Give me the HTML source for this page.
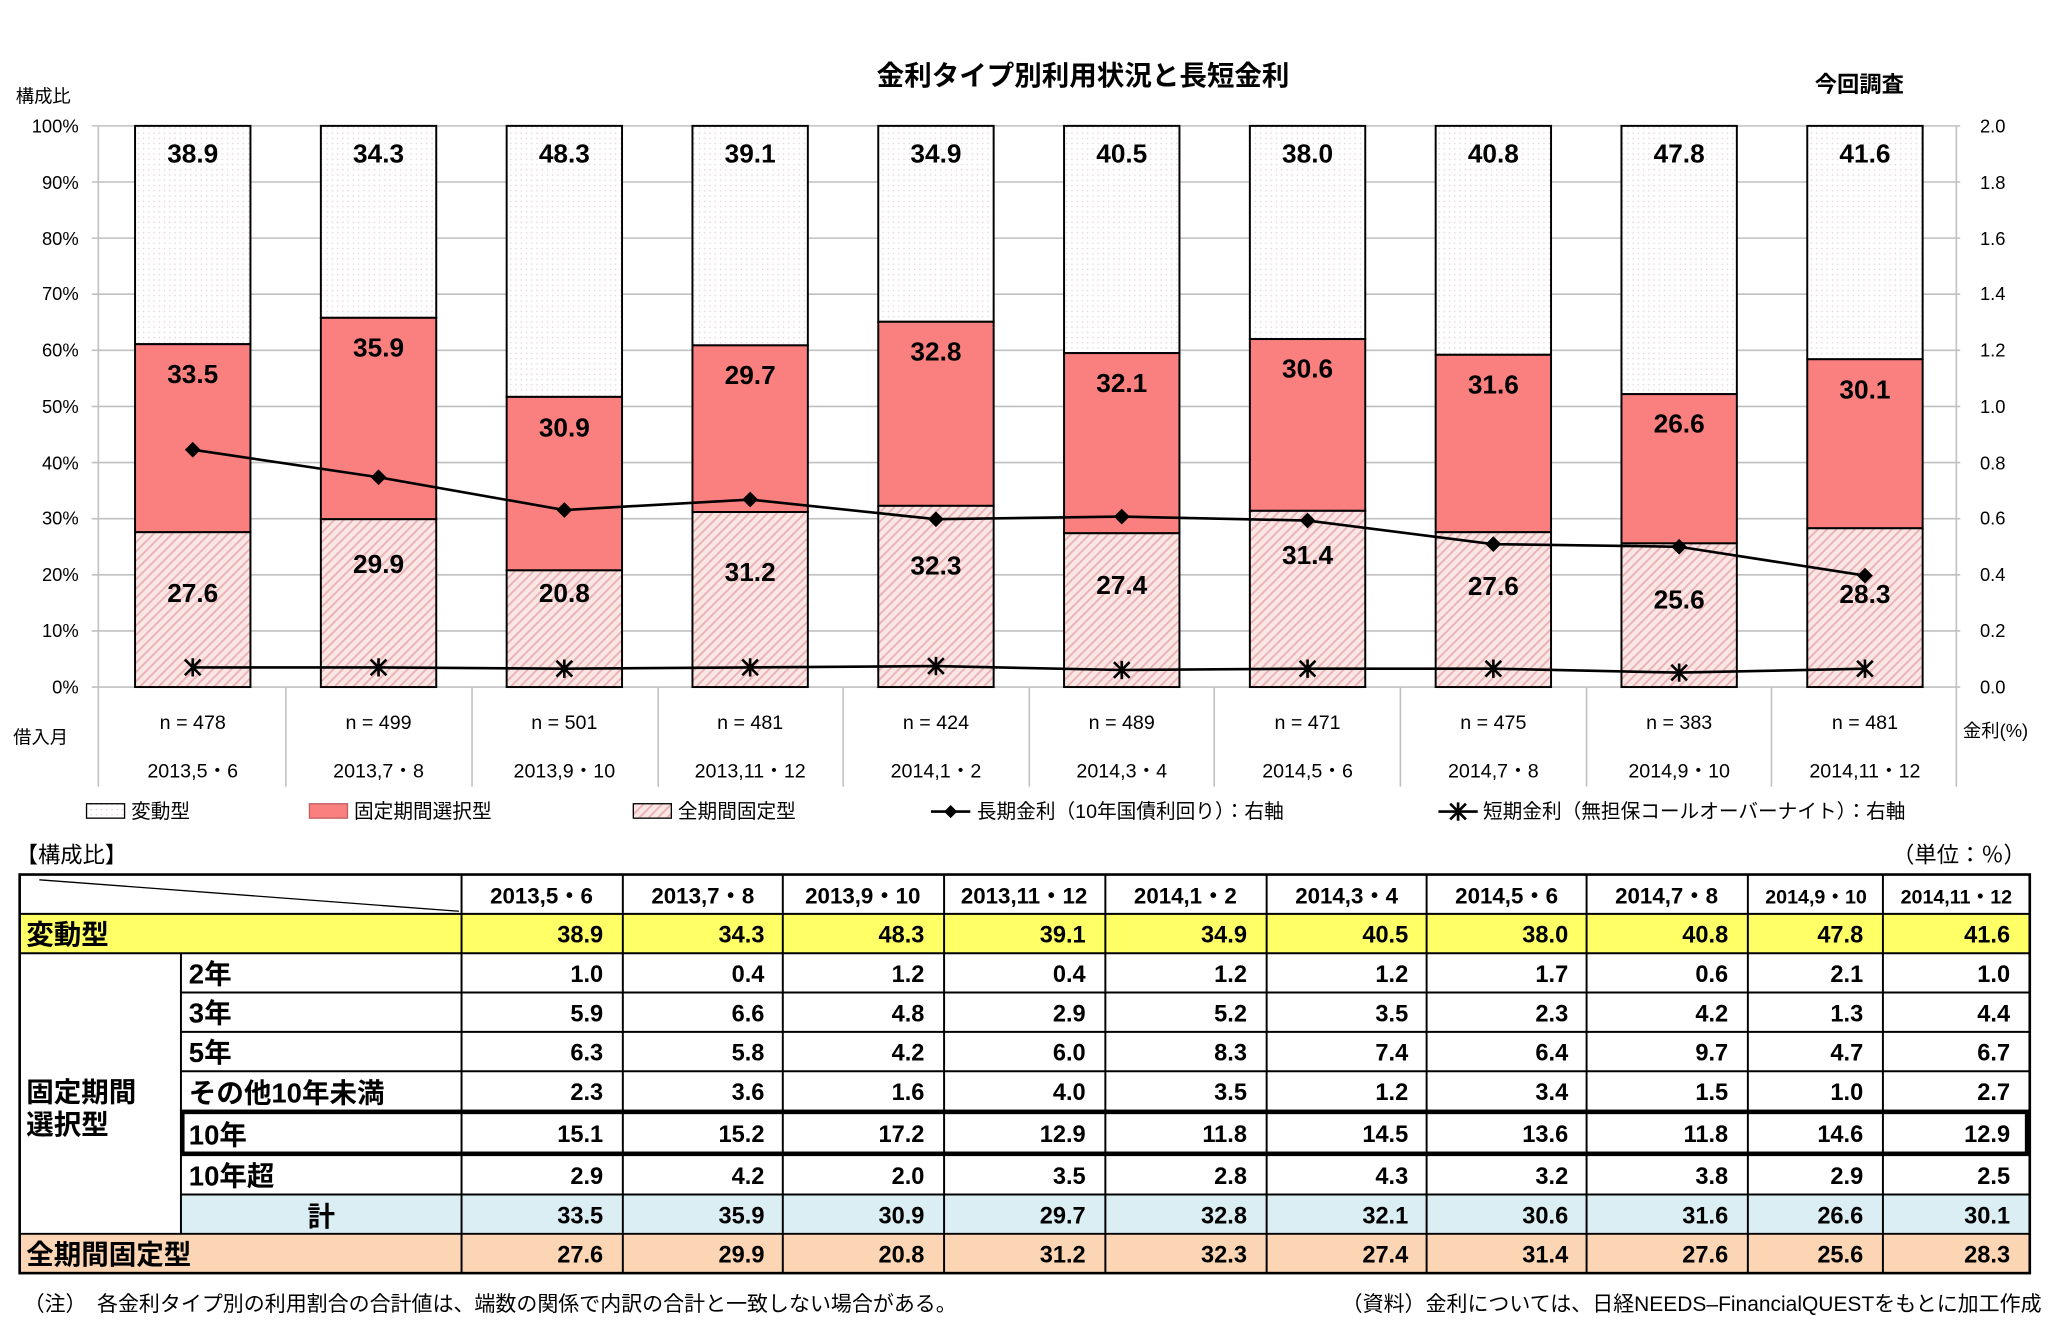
<!DOCTYPE html>
<html><head><meta charset="utf-8"><style>
html,body{margin:0;padding:0;background:#fff;}
svg{display:block;}
text{font-family:"Liberation Sans","Noto Sans CJK JP",sans-serif;}
.b{font-weight:bold;}
</style></head><body>
<svg width="2056" height="1340" viewBox="0 0 1568 1022" preserveAspectRatio="none" xmlns="http://www.w3.org/2000/svg">
<defs>
<pattern id="dots" width="4" height="4" patternUnits="userSpaceOnUse"><rect width="4" height="4" fill="#fff"/><rect x="1" y="1" width="1" height="1" fill="#e2d2d2"/></pattern>
<pattern id="hatch" width="5" height="5" patternUnits="userSpaceOnUse" patternTransform="rotate(45)"><rect width="5" height="5" fill="#fbe6e6"/><rect width="1.5" height="5" fill="#eab4b4"/></pattern>
</defs>
<rect width="1568" height="1022" fill="#fff"/>
<text x="826" y="65" text-anchor="middle" class="b" font-size="21">金利タイプ別利用状況と長短金利</text>
<text x="1418" y="70" text-anchor="middle" class="b" font-size="17">今回調査</text>
<text x="12" y="78" font-size="14">構成比</text>
<g stroke="#c0c0c0" stroke-width="1.2">
<line x1="70" y1="96" x2="1495" y2="96"/><line x1="70" y1="138.8" x2="1495" y2="138.8"/><line x1="70" y1="181.6" x2="1495" y2="181.6"/><line x1="70" y1="224.4" x2="1495" y2="224.4"/><line x1="70" y1="267.2" x2="1495" y2="267.2"/><line x1="70" y1="310" x2="1495" y2="310"/><line x1="70" y1="352.8" x2="1495" y2="352.8"/><line x1="70" y1="395.6" x2="1495" y2="395.6"/><line x1="70" y1="438.4" x2="1495" y2="438.4"/><line x1="70" y1="481.2" x2="1495" y2="481.2"/><line x1="70" y1="524" x2="1495" y2="524"/>
<line x1="75" y1="96" x2="75" y2="600"/><line x1="1492" y1="96" x2="1492" y2="600"/>
<line x1="218" y1="524" x2="218" y2="600"/><line x1="360" y1="524" x2="360" y2="600"/><line x1="502" y1="524" x2="502" y2="600"/><line x1="643" y1="524" x2="643" y2="600"/><line x1="785" y1="524" x2="785" y2="600"/><line x1="926" y1="524" x2="926" y2="600"/><line x1="1068" y1="524" x2="1068" y2="600"/><line x1="1210" y1="524" x2="1210" y2="600"/><line x1="1351" y1="524" x2="1351" y2="600"/>
</g>
<g font-size="14" text-anchor="end">
<text x="60" y="101">100%</text><text x="60" y="144">90%</text><text x="60" y="187">80%</text><text x="60" y="229">70%</text><text x="60" y="272">60%</text><text x="60" y="315">50%</text><text x="60" y="358">40%</text><text x="60" y="400">30%</text><text x="60" y="443">20%</text><text x="60" y="486">10%</text><text x="60" y="529">0%</text>
</g>
<g font-size="14">
<text x="1510" y="101">2.0</text><text x="1510" y="144">1.8</text><text x="1510" y="187">1.6</text><text x="1510" y="229">1.4</text><text x="1510" y="272">1.2</text><text x="1510" y="315">1.0</text><text x="1510" y="358">0.8</text><text x="1510" y="400">0.6</text><text x="1510" y="443">0.4</text><text x="1510" y="486">0.2</text><text x="1510" y="529">0.0</text>
</g>
<g stroke="#000" stroke-width="1.5">
<rect x="103" y="96" width="88" height="166.5" fill="url(#dots)"/><rect x="103" y="262.5" width="88" height="143.4" fill="#fa8080"/><rect x="103" y="405.9" width="88" height="118.1" fill="url(#hatch)"/>
<rect x="244.7" y="96" width="88" height="146.4" fill="url(#dots)"/><rect x="244.7" y="242.4" width="88" height="153.6" fill="#fa8080"/><rect x="244.7" y="396" width="88" height="128" fill="url(#hatch)"/>
<rect x="386.4" y="96" width="88" height="206.7" fill="url(#dots)"/><rect x="386.4" y="302.7" width="88" height="132.3" fill="#fa8080"/><rect x="386.4" y="435" width="88" height="89" fill="url(#hatch)"/>
<rect x="528.1" y="96" width="88" height="167.4" fill="url(#dots)"/><rect x="528.1" y="263.4" width="88" height="127.1" fill="#fa8080"/><rect x="528.1" y="390.5" width="88" height="133.5" fill="url(#hatch)"/>
<rect x="669.8" y="96" width="88" height="149.4" fill="url(#dots)"/><rect x="669.8" y="245.4" width="88" height="140.4" fill="#fa8080"/><rect x="669.8" y="385.8" width="88" height="138.2" fill="url(#hatch)"/>
<rect x="811.5" y="96" width="88" height="173.3" fill="url(#dots)"/><rect x="811.5" y="269.3" width="88" height="137.4" fill="#fa8080"/><rect x="811.5" y="406.7" width="88" height="117.3" fill="url(#hatch)"/>
<rect x="953.2" y="96" width="88" height="162.6" fill="url(#dots)"/><rect x="953.2" y="258.6" width="88" height="131" fill="#fa8080"/><rect x="953.2" y="389.6" width="88" height="134.4" fill="url(#hatch)"/>
<rect x="1094.9" y="96" width="88" height="174.6" fill="url(#dots)"/><rect x="1094.9" y="270.6" width="88" height="135.3" fill="#fa8080"/><rect x="1094.9" y="405.9" width="88" height="118.1" fill="url(#hatch)"/>
<rect x="1236.6" y="96" width="88" height="204.6" fill="url(#dots)"/><rect x="1236.6" y="300.6" width="88" height="113.8" fill="#fa8080"/><rect x="1236.6" y="414.4" width="88" height="109.6" fill="url(#hatch)"/>
<rect x="1378.3" y="96" width="88" height="178" fill="url(#dots)"/><rect x="1378.3" y="274" width="88" height="128.9" fill="#fa8080"/><rect x="1378.3" y="402.9" width="88" height="121.1" fill="url(#hatch)"/>
</g>
<g class="b" font-size="20" text-anchor="middle">
<text x="147" y="124">38.9</text><text x="288.7" y="124">34.3</text><text x="430.4" y="124">48.3</text><text x="572.1" y="124">39.1</text><text x="713.8" y="124">34.9</text><text x="855.5" y="124">40.5</text><text x="997.2" y="124">38.0</text><text x="1138.9" y="124">40.8</text><text x="1280.6" y="124">47.8</text><text x="1422.3" y="124">41.6</text>
<text x="147" y="292">33.5</text><text x="288.7" y="272">35.9</text><text x="430.4" y="333">30.9</text><text x="572.1" y="293">29.7</text><text x="713.8" y="275">32.8</text><text x="855.5" y="299">32.1</text><text x="997.2" y="288">30.6</text><text x="1138.9" y="300">31.6</text><text x="1280.6" y="330">26.6</text><text x="1422.3" y="304">30.1</text>
<text x="147" y="459">27.6</text><text x="288.7" y="437">29.9</text><text x="430.4" y="459">20.8</text><text x="572.1" y="443">31.2</text><text x="713.8" y="438">32.3</text><text x="855.5" y="453">27.4</text><text x="997.2" y="430">31.4</text><text x="1138.9" y="454">27.6</text><text x="1280.6" y="464">25.6</text><text x="1422.3" y="460">28.3</text>
</g>
<polyline fill="none" stroke="#000" stroke-width="2" points="147,343 288.7,364 430.4,389 572.1,381 713.8,396 855.5,394 997.2,397 1138.9,415 1280.6,417 1422.3,439"/>
<g fill="#000">
<path d="M147,337 l6,6 l-6,6 l-6,-6z"/><path d="M288.7,358 l6,6 l-6,6 l-6,-6z"/><path d="M430.4,383 l6,6 l-6,6 l-6,-6z"/><path d="M572.1,375 l6,6 l-6,6 l-6,-6z"/><path d="M713.8,390 l6,6 l-6,6 l-6,-6z"/><path d="M855.5,388 l6,6 l-6,6 l-6,-6z"/><path d="M997.2,391 l6,6 l-6,6 l-6,-6z"/><path d="M1138.9,409 l6,6 l-6,6 l-6,-6z"/><path d="M1280.6,411 l6,6 l-6,6 l-6,-6z"/><path d="M1422.3,433 l6,6 l-6,6 l-6,-6z"/>
</g>
<polyline fill="none" stroke="#000" stroke-width="2" points="147,509 288.7,509 430.4,510 572.1,509 713.8,508 855.5,511 997.2,510 1138.9,510 1280.6,513 1422.3,510"/>
<g stroke="#000" stroke-width="2">
<path d="M141,503 l12,12 M153,503 l-12,12 M147,502 v14"/><path d="M282.7,503 l12,12 M294.7,503 l-12,12 M288.7,502 v14"/><path d="M424.4,504 l12,12 M436.4,504 l-12,12 M430.4,503 v14"/><path d="M566.1,503 l12,12 M578.1,503 l-12,12 M572.1,502 v14"/><path d="M707.8,502 l12,12 M719.8,502 l-12,12 M713.8,501 v14"/><path d="M849.5,505 l12,12 M861.5,505 l-12,12 M855.5,504 v14"/><path d="M991.2,504 l12,12 M1003.2,504 l-12,12 M997.2,503 v14"/><path d="M1132.9,504 l12,12 M1144.9,504 l-12,12 M1138.9,503 v14"/><path d="M1274.6,507 l12,12 M1286.6,507 l-12,12 M1280.6,506 v14"/><path d="M1416.3,504 l12,12 M1428.3,504 l-12,12 M1422.3,503 v14"/>
</g>
<g font-size="15" text-anchor="middle">
<text x="147" y="556">n = 478</text><text x="288.7" y="556">n = 499</text><text x="430.4" y="556">n = 501</text><text x="572.1" y="556">n = 481</text><text x="713.8" y="556">n = 424</text><text x="855.5" y="556">n = 489</text><text x="997.2" y="556">n = 471</text><text x="1138.9" y="556">n = 475</text><text x="1280.6" y="556">n = 383</text><text x="1422.3" y="556">n = 481</text>
<text x="147" y="593">2013,5・6</text><text x="288.7" y="593">2013,7・8</text><text x="430.4" y="593">2013,9・10</text><text x="572.1" y="593">2013,11・12</text><text x="713.8" y="593">2014,1・2</text><text x="855.5" y="593">2014,3・4</text><text x="997.2" y="593">2014,5・6</text><text x="1138.9" y="593">2014,7・8</text><text x="1280.6" y="593">2014,9・10</text><text x="1422.3" y="593">2014,11・12</text>
</g>
<text x="10" y="567" font-size="14">借入月</text>
<text x="1497" y="562" font-size="14">金利(%)</text>
<g font-size="15">
<rect x="66" y="613" width="29" height="11" fill="url(#dots)" stroke="#000"/><text x="100" y="624">変動型</text>
<rect x="236" y="613" width="29" height="11" fill="#fa8080" stroke="#c06060"/><text x="270" y="624">固定期間選択型</text>
<rect x="483" y="613" width="29" height="11" fill="url(#hatch)" stroke="#000"/><text x="517" y="624">全期間固定型</text>
<line x1="710" y1="619" x2="740" y2="619" stroke="#000" stroke-width="2"/><path d="M725,614 l5,5 l-5,5 l-5,-5z"/><text x="745" y="624">長期金利（10年国債利回り）：右軸</text>
<line x1="1097" y1="619" x2="1127" y2="619" stroke="#000" stroke-width="2"/><path d="M1106,613 l12,12 M1118,613 l-12,12 M1112,612 v14" stroke="#000" stroke-width="2"/><text x="1131" y="624">短期金利（無担保コールオーバーナイト）：右軸</text>
</g>
<text x="12" y="658" font-size="17">【構成比】</text>
<text x="1545" y="658" font-size="17" text-anchor="end">（単位：％）</text>
<rect x="15" y="697" width="1533" height="30" fill="#ffff66"/>
<rect x="138" y="911" width="1410" height="30" fill="#daeef3"/>
<rect x="15" y="941" width="1533" height="30" fill="#fcd5b4"/>
<g stroke="#000" stroke-width="1.5" fill="none">
<rect x="15" y="667" width="1533" height="304" stroke-width="2"/>
<line x1="15" y1="697" x2="1548" y2="697"/><line x1="15" y1="727" x2="1548" y2="727"/>
<line x1="138" y1="757" x2="1548" y2="757"/><line x1="138" y1="787" x2="1548" y2="787"/><line x1="138" y1="817" x2="1548" y2="817"/><line x1="138" y1="911" x2="1548" y2="911"/><line x1="15" y1="941" x2="1548" y2="941"/>
<line x1="138" y1="727" x2="138" y2="941"/>
<line x1="352" y1="667" x2="352" y2="971"/><line x1="475" y1="667" x2="475" y2="971"/><line x1="597" y1="667" x2="597" y2="971"/><line x1="720" y1="667" x2="720" y2="971"/><line x1="843" y1="667" x2="843" y2="971"/><line x1="966" y1="667" x2="966" y2="971"/><line x1="1088" y1="667" x2="1088" y2="971"/><line x1="1210" y1="667" x2="1210" y2="971"/><line x1="1333" y1="667" x2="1333" y2="971"/><line x1="1436" y1="667" x2="1436" y2="971"/>
<line x1="30" y1="671" x2="350" y2="695" stroke-width="1"/>
<rect x="139" y="848" width="1407" height="32" stroke-width="3.5"/>
</g>
<g font-size="17" class="b" text-anchor="middle">
<text x="413" y="689">2013,5・6</text><text x="536" y="689">2013,7・8</text><text x="658" y="689">2013,9・10</text><text x="781" y="689">2013,11・12</text><text x="904" y="689">2014,1・2</text><text x="1027" y="689">2014,3・4</text><text x="1149" y="689">2014,5・6</text><text x="1271" y="689">2014,7・8</text><text x="1385" y="689" font-size="15">2014,9・10</text><text x="1492" y="689" font-size="15">2014,11・12</text>
</g>
<g class="b" font-size="21">
<text x="20" y="720">変動型</text>
<text x="144" y="750">2年</text><text x="144" y="780">3年</text><text x="144" y="810">5年</text><text x="144" y="841">その他10年未満</text><text x="144" y="873">10年</text><text x="144" y="904">10年超</text>
<text x="245" y="935" text-anchor="middle">計</text>
<text x="20" y="840">固定期間</text><text x="20" y="865">選択型</text>
<text x="20" y="964">全期間固定型</text>
</g>
<g class="b" font-size="18" text-anchor="end">
<text x="460" y="719">38.9</text><text x="583" y="719">34.3</text><text x="705" y="719">48.3</text><text x="828" y="719">39.1</text><text x="951" y="719">34.9</text><text x="1074" y="719">40.5</text><text x="1196" y="719">38.0</text><text x="1318" y="719">40.8</text><text x="1421" y="719">47.8</text><text x="1533" y="719">41.6</text>
<text x="460" y="749">1.0</text><text x="583" y="749">0.4</text><text x="705" y="749">1.2</text><text x="828" y="749">0.4</text><text x="951" y="749">1.2</text><text x="1074" y="749">1.2</text><text x="1196" y="749">1.7</text><text x="1318" y="749">0.6</text><text x="1421" y="749">2.1</text><text x="1533" y="749">1.0</text>
<text x="460" y="779">5.9</text><text x="583" y="779">6.6</text><text x="705" y="779">4.8</text><text x="828" y="779">2.9</text><text x="951" y="779">5.2</text><text x="1074" y="779">3.5</text><text x="1196" y="779">2.3</text><text x="1318" y="779">4.2</text><text x="1421" y="779">1.3</text><text x="1533" y="779">4.4</text>
<text x="460" y="809">6.3</text><text x="583" y="809">5.8</text><text x="705" y="809">4.2</text><text x="828" y="809">6.0</text><text x="951" y="809">8.3</text><text x="1074" y="809">7.4</text><text x="1196" y="809">6.4</text><text x="1318" y="809">9.7</text><text x="1421" y="809">4.7</text><text x="1533" y="809">6.7</text>
<text x="460" y="839">2.3</text><text x="583" y="839">3.6</text><text x="705" y="839">1.6</text><text x="828" y="839">4.0</text><text x="951" y="839">3.5</text><text x="1074" y="839">1.2</text><text x="1196" y="839">3.4</text><text x="1318" y="839">1.5</text><text x="1421" y="839">1.0</text><text x="1533" y="839">2.7</text>
<text x="460" y="871">15.1</text><text x="583" y="871">15.2</text><text x="705" y="871">17.2</text><text x="828" y="871">12.9</text><text x="951" y="871">11.8</text><text x="1074" y="871">14.5</text><text x="1196" y="871">13.6</text><text x="1318" y="871">11.8</text><text x="1421" y="871">14.6</text><text x="1533" y="871">12.9</text>
<text x="460" y="903">2.9</text><text x="583" y="903">4.2</text><text x="705" y="903">2.0</text><text x="828" y="903">3.5</text><text x="951" y="903">2.8</text><text x="1074" y="903">4.3</text><text x="1196" y="903">3.2</text><text x="1318" y="903">3.8</text><text x="1421" y="903">2.9</text><text x="1533" y="903">2.5</text>
<text x="460" y="933">33.5</text><text x="583" y="933">35.9</text><text x="705" y="933">30.9</text><text x="828" y="933">29.7</text><text x="951" y="933">32.8</text><text x="1074" y="933">32.1</text><text x="1196" y="933">30.6</text><text x="1318" y="933">31.6</text><text x="1421" y="933">26.6</text><text x="1533" y="933">30.1</text>
<text x="460" y="963">27.6</text><text x="583" y="963">29.9</text><text x="705" y="963">20.8</text><text x="828" y="963">31.2</text><text x="951" y="963">32.3</text><text x="1074" y="963">27.4</text><text x="1196" y="963">31.4</text><text x="1318" y="963">27.6</text><text x="1421" y="963">25.6</text><text x="1533" y="963">28.3</text>
</g>
<text x="18" y="1000" font-size="16">（注）　各金利タイプ別の利用割合の合計値は、端数の関係で内訳の合計と一致しない場合がある。</text>
<text x="1557" y="1000" font-size="16" text-anchor="end">（資料）金利については、日経NEEDS–FinancialQUESTをもとに加工作成</text>
</svg>
</body></html>
